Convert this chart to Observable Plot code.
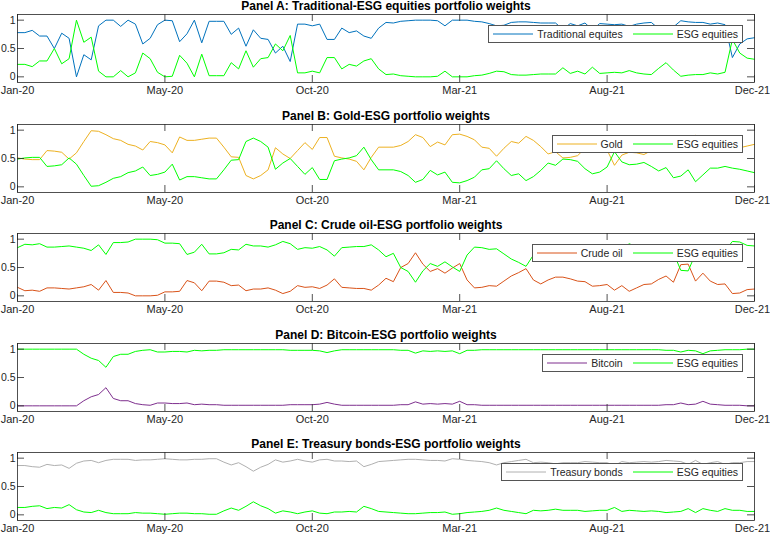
<!DOCTYPE html>
<html><head><meta charset="utf-8">
<script src="https://cdn.jsdelivr.net/npm/d3@7"></script>
<script src="https://cdn.jsdelivr.net/npm/@observablehq/plot@0.6"></script>
<style>
body{margin:0;background:#fff;}
#chart{position:relative;width:770px;height:536px;overflow:hidden;font-family:"Liberation Sans",Arial,Helvetica,sans-serif;}
.panel{position:absolute;left:0;width:770px;}
.panel svg{display:block;}
.legend{position:absolute;right:27px;height:18px;box-sizing:border-box;border:1px solid #555;background:#fff;display:flex;align-items:center;padding:0 4px;font-size:10.5px;color:#262626;white-space:nowrap;}
.legend .item{display:flex;align-items:center;}
.legend .item + .item{margin-left:10px;}
.legend svg{margin-right:4px;display:block;}
</style></head><body><div id="chart"></div>
<script>
// ---- data ----
const xTickIndex = [0, 20, 40, 60, 80, 100];
const xTickLabels = ["Jan-20", "May-20", "Oct-20", "Mar-21", "Aug-21", "Dec-21"];
const yTickValues = [0, 0.5, 1];
const yTickLabels = ["0", "0.5", "1"];
const panelTitles = [
  "Panel A: Traditional-ESG equities portfolio weights",
  "Panel B: Gold-ESG portfolio weights",
  "Panel C: Crude oil-ESG portfolio weights",
  "Panel D: Bitcoin-ESG portfolio weights",
  "Panel E: Treasury bonds-ESG portfolio weights"
];
const assetNames = ["Traditional equites", "Gold", "Crude oil", "Bitcoin", "Treasury bonds"];
const esgName = "ESG equities";

const traditional = [0.78,0.78,0.82,0.72,0.72,0.50,0.77,0.68,0.00,0.39,
 0.30,0.90,1.00,1.00,0.89,1.00,0.93,0.58,0.68,0.92,
 1.00,0.99,0.62,0.76,1.00,0.60,0.98,0.98,0.98,0.75,
 0.86,0.54,0.83,0.68,0.66,0.42,0.54,0.27,0.93,0.93,
 0.90,0.93,0.66,0.66,0.86,0.78,0.81,0.72,0.68,0.86,
 0.96,0.95,0.98,0.99,1.00,1.00,1.00,0.99,0.90,1.00,
 1.00,1.00,0.98,0.97,0.94,0.90,0.91,0.96,0.97,0.97,
 0.96,0.95,0.95,0.95,0.84,0.94,0.90,0.95,0.83,0.94,
 0.93,0.92,0.93,0.89,0.93,0.95,0.96,0.85,0.75,0.88,
 0.99,0.97,0.96,0.96,0.93,0.95,0.92,0.34,0.58,0.67,
 0.69];
const esgA = [0.22,0.22,0.18,0.28,0.28,0.50,0.23,0.32,1.00,0.61,
 0.70,0.10,0.00,0.00,0.11,0.00,0.07,0.42,0.32,0.08,
 0.00,0.01,0.38,0.24,0.00,0.40,0.02,0.02,0.02,0.25,
 0.14,0.46,0.17,0.32,0.34,0.58,0.46,0.73,0.07,0.07,
 0.10,0.07,0.34,0.34,0.14,0.22,0.19,0.28,0.32,0.14,
 0.04,0.05,0.02,0.01,0.00,0.00,0.00,0.01,0.10,0.00,
 0.00,0.00,0.02,0.03,0.06,0.10,0.09,0.04,0.03,0.03,
 0.04,0.05,0.05,0.05,0.16,0.06,0.10,0.05,0.17,0.06,
 0.07,0.08,0.07,0.11,0.07,0.05,0.04,0.15,0.25,0.12,
 0.01,0.03,0.04,0.04,0.07,0.05,0.08,0.66,0.42,0.33,
 0.31];
const gold = [0.51,0.49,0.48,0.48,0.64,0.63,0.61,0.49,0.60,0.80,
 0.99,0.98,0.92,0.85,0.82,0.75,0.72,0.65,0.80,0.78,
 0.74,0.60,0.88,0.82,0.82,0.84,0.86,0.86,0.70,0.53,
 0.52,0.20,0.14,0.20,0.30,0.69,0.58,0.50,0.64,0.78,
 0.66,0.87,0.87,0.54,0.51,0.49,0.45,0.30,0.52,0.70,
 0.70,0.70,0.73,0.80,0.92,0.87,0.71,0.79,0.74,0.92,
 0.93,0.89,0.83,0.70,0.68,0.54,0.68,0.80,0.77,0.89,
 0.82,0.71,0.58,0.62,0.51,0.52,0.55,0.68,0.77,0.74,
 0.65,0.38,0.56,0.61,0.60,0.57,0.64,0.72,0.66,0.84,
 0.81,0.70,0.91,0.79,0.67,0.67,0.64,0.67,0.69,0.72,
 0.75];
const esgB = [0.49,0.51,0.52,0.52,0.36,0.37,0.39,0.51,0.40,0.20,
 0.01,0.02,0.08,0.15,0.18,0.25,0.28,0.35,0.20,0.22,
 0.26,0.40,0.12,0.18,0.18,0.16,0.14,0.14,0.30,0.47,
 0.48,0.80,0.86,0.80,0.70,0.31,0.42,0.50,0.36,0.22,
 0.34,0.13,0.13,0.46,0.49,0.51,0.55,0.70,0.48,0.30,
 0.30,0.30,0.27,0.20,0.08,0.13,0.29,0.21,0.26,0.08,
 0.07,0.11,0.17,0.30,0.32,0.46,0.32,0.20,0.23,0.11,
 0.18,0.29,0.42,0.38,0.49,0.48,0.45,0.32,0.23,0.26,
 0.35,0.62,0.44,0.39,0.40,0.43,0.36,0.28,0.34,0.16,
 0.19,0.30,0.09,0.21,0.33,0.33,0.36,0.33,0.31,0.28,
 0.25];
const crudeOil = [0.15,0.09,0.10,0.08,0.14,0.14,0.13,0.12,0.14,0.16,
 0.20,0.10,0.27,0.06,0.06,0.05,0.00,0.00,0.00,0.01,
 0.07,0.07,0.08,0.27,0.23,0.09,0.26,0.26,0.24,0.18,
 0.19,0.09,0.12,0.12,0.14,0.10,0.04,0.08,0.18,0.15,
 0.16,0.13,0.19,0.30,0.15,0.14,0.13,0.13,0.10,0.19,
 0.31,0.25,0.50,0.57,0.76,0.56,0.43,0.48,0.40,0.49,
 0.57,0.28,0.14,0.15,0.18,0.17,0.26,0.35,0.41,0.48,
 0.28,0.21,0.28,0.33,0.33,0.30,0.26,0.25,0.17,0.18,
 0.20,0.10,0.18,0.08,0.14,0.20,0.21,0.29,0.35,0.24,
 0.55,0.56,0.26,0.40,0.26,0.20,0.21,0.04,0.05,0.11,
 0.12];
const esgC = [0.85,0.91,0.90,0.92,0.86,0.86,0.87,0.88,0.86,0.84,
 0.80,0.90,0.73,0.94,0.94,0.95,1.00,1.00,1.00,0.99,
 0.93,0.93,0.92,0.73,0.77,0.91,0.74,0.74,0.76,0.82,
 0.81,0.91,0.88,0.88,0.86,0.90,0.96,0.92,0.82,0.85,
 0.84,0.87,0.81,0.70,0.85,0.86,0.87,0.87,0.90,0.81,
 0.69,0.75,0.50,0.43,0.24,0.44,0.57,0.52,0.60,0.51,
 0.43,0.72,0.86,0.85,0.82,0.83,0.74,0.65,0.59,0.52,
 0.72,0.79,0.72,0.67,0.67,0.70,0.74,0.75,0.83,0.82,
 0.80,0.90,0.82,0.92,0.86,0.80,0.79,0.71,0.65,0.76,
 0.45,0.44,0.74,0.60,0.74,0.80,0.79,0.96,0.95,0.89,
 0.88];
const bitcoin = [0.00,0.00,0.00,0.00,0.00,0.00,0.00,0.00,0.00,0.09,
 0.16,0.20,0.32,0.13,0.09,0.09,0.04,0.02,0.01,0.05,
 0.05,0.04,0.04,0.05,0.02,0.03,0.02,0.02,0.01,0.01,
 0.01,0.01,0.01,0.01,0.01,0.01,0.01,0.02,0.02,0.02,
 0.02,0.03,0.06,0.03,0.01,0.01,0.01,0.01,0.01,0.01,
 0.01,0.01,0.02,0.02,0.07,0.03,0.04,0.03,0.04,0.03,
 0.08,0.02,0.02,0.01,0.01,0.01,0.01,0.01,0.01,0.01,
 0.01,0.01,0.01,0.01,0.01,0.01,0.01,0.01,0.01,0.01,
 0.01,0.01,0.01,0.01,0.01,0.01,0.01,0.01,0.02,0.02,
 0.05,0.02,0.03,0.08,0.03,0.02,0.01,0.01,0.01,0.00,
 0.00];
const esgD = [1.00,1.00,1.00,1.00,1.00,1.00,1.00,1.00,1.00,0.91,
 0.84,0.80,0.68,0.87,0.91,0.91,0.96,0.98,0.99,0.95,
 0.95,0.96,0.96,0.95,0.98,0.97,0.98,0.98,0.99,0.99,
 0.99,0.99,0.99,0.99,0.99,0.99,0.99,0.98,0.98,0.98,
 0.98,0.97,0.94,0.97,0.99,0.99,0.99,0.99,0.99,0.99,
 0.99,0.99,0.98,0.98,0.93,0.97,0.96,0.97,0.96,0.97,
 0.92,0.98,0.98,0.99,0.99,0.99,0.99,0.99,0.99,0.99,
 0.99,0.99,0.99,0.99,0.99,0.99,0.99,0.99,0.99,0.99,
 0.99,0.99,0.99,0.99,0.99,0.99,0.99,0.99,0.98,0.98,
 0.95,0.98,0.97,0.92,0.97,0.98,0.99,0.99,0.99,1.00,
 1.00];
const treasury = [0.87,0.87,0.85,0.84,0.89,0.87,0.88,0.82,0.91,0.95,
 0.96,0.92,0.96,0.98,0.98,0.98,0.96,0.97,0.97,0.98,
 0.99,0.98,0.97,0.97,0.98,0.98,0.99,0.99,0.93,0.88,
 0.92,0.85,0.77,0.84,0.89,0.97,0.93,0.95,0.98,0.95,
 0.93,0.97,0.98,0.95,0.95,0.94,0.95,0.85,0.89,0.94,
 0.95,0.96,0.97,0.98,0.98,0.97,0.96,0.96,0.95,0.99,
 0.98,0.96,0.95,0.94,0.92,0.88,0.92,0.94,0.96,0.98,
 0.92,0.93,0.92,0.90,0.92,0.92,0.92,0.94,0.93,0.92,
 0.92,0.87,0.94,0.92,0.93,0.94,0.93,0.94,0.96,0.95,
 0.94,0.89,0.96,0.89,0.92,0.94,0.89,0.92,0.92,0.94,
 0.94];
const esgE = [0.13,0.13,0.15,0.16,0.11,0.13,0.12,0.18,0.09,0.05,
 0.04,0.08,0.04,0.02,0.02,0.02,0.04,0.03,0.03,0.02,
 0.01,0.02,0.03,0.03,0.02,0.02,0.01,0.01,0.07,0.12,
 0.08,0.15,0.23,0.16,0.11,0.03,0.07,0.05,0.02,0.05,
 0.07,0.03,0.02,0.05,0.05,0.06,0.05,0.15,0.11,0.06,
 0.05,0.04,0.03,0.02,0.02,0.03,0.04,0.04,0.05,0.01,
 0.02,0.04,0.05,0.06,0.08,0.12,0.08,0.06,0.04,0.02,
 0.08,0.07,0.08,0.10,0.08,0.08,0.08,0.06,0.07,0.08,
 0.08,0.13,0.06,0.08,0.07,0.06,0.07,0.06,0.04,0.05,
 0.06,0.11,0.04,0.11,0.08,0.06,0.11,0.08,0.08,0.06,
 0.06];

const assetSeries = [traditional, gold, crudeOil, bitcoin, treasury];
const esgSeries = [esgA, esgB, esgC, esgD, esgE];

// ---- styles / layout ----
const assetColors = ["#0072BD", "#EDB120", "#D95319", "#7E2F8E", "#B0B0B0"];
const esgColor = "#00FF00";
const axisColor = "#262626";
const W = 770, H = 109, MT = 14, MB = 27, ML = 17, MR = 16;
const FH = H - MT - MB, FW = W - ML - MR, TICK = 7;
const panelStep = 109.6;

const chart = document.getElementById("chart");
const labelOf = d => xTickLabels[xTickIndex.indexOf(d)];
const innerTicks = xTickIndex.slice(0, -1);
const lastTick = xTickIndex.slice(-1);

panelTitles.forEach((title, p) => {
  const top = p * panelStep;
  const div = document.createElement("div");
  div.className = "panel";
  div.style.top = top + "px";
  const n = assetSeries[p].length;
  const svg = Plot.plot({
    width: W, height: H,
    marginTop: MT, marginBottom: MB, marginLeft: ML, marginRight: MR,
    style: {fontFamily: '"Liberation Sans", Arial, Helvetica, sans-serif', fontSize: "11px", color: axisColor, background: "transparent", overflow: "visible"},
    x: {domain: [0, n - 1], label: null},
    y: {domain: [-0.1, 1.1], label: null},
    marks: [
      Plot.axisX(innerTicks, {anchor: "bottom", tickSize: 0, tickPadding: 4, label: null, fill: axisColor, tickFormat: labelOf}),
      Plot.axisX(lastTick, {anchor: "bottom", tickSize: 0, tickPadding: 4, label: null, fill: axisColor, tickFormat: labelOf, dx: -2}),
      Plot.axisY(yTickValues, {anchor: "left", tickSize: 0, tickPadding: 2, label: null, fill: axisColor, fontSize: 10.5,
        tickFormat: d => yTickLabels[yTickValues.indexOf(d)]}),
      Plot.line(assetSeries[p], {x: (d, i) => i, y: d => d, stroke: assetColors[p], strokeWidth: 1}),
      Plot.line(esgSeries[p], {x: (d, i) => i, y: d => d, stroke: esgColor, strokeWidth: 1}),
      Plot.frame({stroke: axisColor, strokeWidth: 0.8}),
      Plot.tickX(xTickIndex, {x: d => d, stroke: axisColor, strokeWidth: 0.8, insetTop: FH - TICK}),
      Plot.tickX(xTickIndex, {x: d => d, stroke: axisColor, strokeWidth: 0.8, insetBottom: FH - TICK}),
      Plot.tickY(yTickValues, {y: d => d, stroke: axisColor, strokeWidth: 0.8, insetRight: FW - TICK}),
      Plot.tickY(yTickValues, {y: d => d, stroke: axisColor, strokeWidth: 0.8, insetLeft: FW - TICK}),
      Plot.text([title], {frameAnchor: "top", dy: -4.5, lineAnchor: "bottom", fontWeight: "bold", fontSize: 12, fill: "#000"})
    ]
  });
  div.appendChild(svg);
  chart.appendChild(div);

  // legend (inside the axes, top-right)
  const leg = document.createElement("div");
  leg.className = "legend";
  leg.style.top = (top + MT + 11) + "px";
  [[assetNames[p], assetColors[p]], [esgName, esgColor]].forEach(([name, color]) => {
    const item = document.createElement("div");
    item.className = "item";
    item.innerHTML = `<svg width="40" height="4"><line x1="0" x2="40" y1="2" y2="2" stroke="${color}" stroke-width="1"/></svg><span>${name}</span>`;
    leg.appendChild(item);
  });
  chart.appendChild(leg);
});
</script>
</body></html>
